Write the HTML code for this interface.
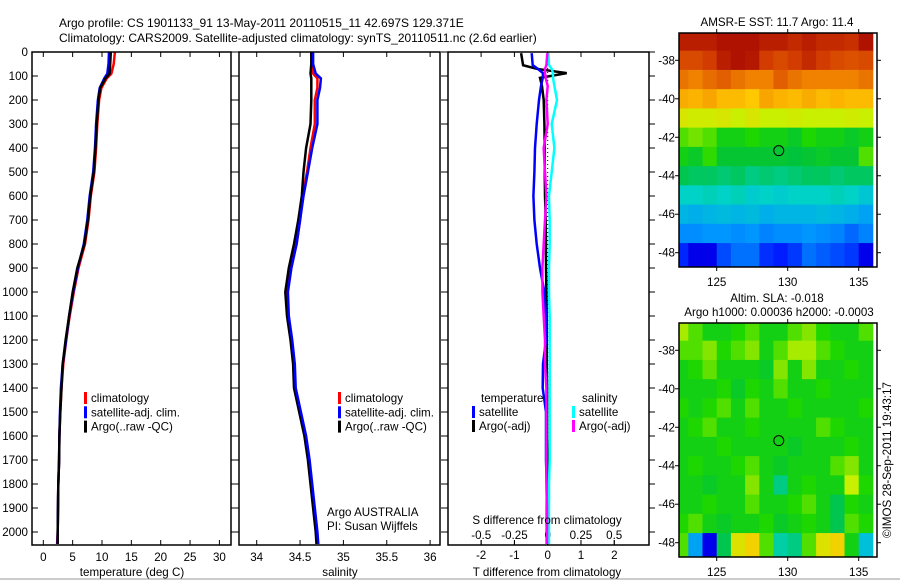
<!DOCTYPE html>
<html><head><meta charset="utf-8"><style>
body{margin:0;background:#fff;width:900px;height:580px;overflow:hidden}
svg{font-family:"Liberation Sans",sans-serif;font-size:11.6px}
</style></head><body>
<svg id="c" width="900" height="580" viewBox="0 0 900 580">
<rect width="900" height="580" fill="#fff"/>
<text x="59" y="27" font-size="12">Argo profile: CS 1901133_91 13-May-2011 20110515_11 42.697S 129.371E</text>
<text x="59" y="42" font-size="12">Climatology: CARS2009. Satellite-adjusted climatology: synTS_20110511.nc (2.6d earlier)</text>
<line x1="0" y1="579" x2="900" y2="579" stroke="#999"/>
</svg>
<script>
const depths=[0,50,90,110,150,200,300,400,500,600,700,800,900,1000,1100,1200,1300,1400,1500,1600,1700,1800,1900,2000,2050];
const tempClim=[12.2,12.0,11.6,10.8,9.9,9.5,9.2,9.0,8.7,8.1,7.7,7.1,6.0,5.2,4.5,3.9,3.4,3.1,2.9,2.75,2.7,2.55,2.5,2.45,2.35];
const tempSat=[11.2,11.1,10.9,10.4,9.6,9.3,9.0,8.8,8.5,7.9,7.5,6.9,5.9,5.1,4.4,3.9,3.3,3.0,2.85,2.75,2.7,2.55,2.5,2.45,2.4];
const tempArgo=[11.5,11.4,11.3,10.6,9.7,9.4,9.1,8.9,8.6,8.0,7.6,7.0,5.8,5.0,4.4,3.8,3.3,3.1,2.9,2.75,2.7,2.55,2.5,2.45,2.45];
const salClim=[34.63,34.64,34.65,34.70,34.70,34.67,34.67,34.62,34.58,34.53,34.50,34.46,34.39,34.35,34.36,34.40,34.43,34.44,34.5,34.56,34.6,34.63,34.66,34.69,34.70];
const salSat=[34.65,34.65,34.68,34.74,34.73,34.70,34.70,34.64,34.59,34.54,34.50,34.46,34.40,34.36,34.37,34.41,34.44,34.45,34.51,34.57,34.61,34.64,34.67,34.70,34.71];
const salArgo=[34.63,34.63,34.62,34.63,34.63,34.63,34.62,34.57,34.54,34.52,34.48,34.43,34.37,34.33,34.35,34.39,34.42,34.43,34.49,34.55,34.59,34.62,34.65,34.68,34.69];
const dDepths=[5,55,70,88,108,142,200,300,400,500,600,700,800,900,1000,1100,1200,1300,1400,1500,1600,1700,1800,1900,2000,2050];
const dTempSat=[-0.48,-0.45,-0.3,-0.14,-0.15,-0.2,-0.26,-0.33,-0.38,-0.4,-0.43,-0.4,-0.33,-0.23,-0.1,-0.05,-0.05,-0.14,-0.15,-0.05,-0.05,-0.05,-0.03,-0.03,-0.03,-0.03];
const dTempArgo=[-0.8,-0.74,-0.33,0.57,-0.23,-0.17,-0.12,-0.1,-0.09,-0.09,-0.08,-0.06,-0.05,-0.05,-0.04,-0.03,-0.03,-0.03,-0.02,-0.02,-0.02,-0.01,-0.01,0,0,0];
const dSalSat=[0.005,0.01,0.03,0.04,0.04,0.05,0.07,0.03,0.05,0.03,0.01,0.015,0.015,0.01,0.01,0.015,0.015,0.015,0.015,0.015,0.015,0.015,0.01,0.01,0.01,0.01];
const dSalArgo=[-0.003,-0.01,-0.02,-0.02,-0.015,0,-0.01,0,-0.03,-0.02,-0.01,-0.02,-0.03,-0.04,-0.04,-0.03,-0.02,-0.02,-0.01,-0.01,-0.01,-0.01,-0.01,-0.005,-0.005,-0.005];
const depthTicks=[0,100,200,300,400,500,600,700,800,900,1000,1100,1200,1300,1400,1500,1600,1700,1800,1900,2000];
const tempTicks=[0,5,10,15,20,25,30];
const salTicks=[34,34.5,35,35.5,36];
const salTickLabels=["34","34.5","35","35.5","36"];
const dTTicks=[-2,-1,0,1,2];
const dSTicks=[-0.5,-0.25,0,0.25,0.5];
const dSTickLabels=["-0.5","-0.25","0","0.25","0.5"];
const mapLats=[-37,-38,-39,-40,-41,-42,-43,-44,-45,-46,-47,-48];
const mapLons=[122.5,123.5,124.5,125.5,126.5,127.5,128.5,129.5,130.5,131.5,132.5,133.5,134.5,135.5];
const sstGrid=[
[.95,.95,.95,.97,.97,.97,.95,.95,.93,.95,.93,.93,.92,.97],
[.88,.88,.9,.95,.97,.96,.9,.88,.9,.93,.9,.88,.87,.88],
[.82,.8,.83,.85,.82,.8,.8,.85,.82,.8,.8,.8,.8,.82],
[.74,.73,.75,.72,.72,.7,.75,.73,.72,.74,.72,.73,.72,.72],
[.64,.63,.63,.64,.62,.64,.62,.62,.63,.62,.62,.62,.63,.62],
[.55,.57,.55,.5,.5,.52,.5,.5,.48,.52,.5,.5,.48,.5],
[.5,.48,.53,.47,.47,.47,.47,.47,.46,.47,.48,.47,.47,.55],
[.45,.44,.44,.43,.44,.42,.43,.42,.43,.44,.44,.43,.44,.44],
[.38,.38,.39,.38,.39,.37,.38,.37,.38,.38,.38,.39,.38,.36],
[.33,.32,.33,.34,.33,.34,.32,.33,.33,.33,.34,.33,.32,.3],
[.27,.27,.28,.28,.27,.28,.26,.27,.27,.28,.27,.26,.23,.26],
[.16,.1,.1,.2,.24,.24,.17,.15,.18,.24,.22,.2,.18,.1]];
const slaGrid=[
[.6,.55,.5,.5,.52,.55,.5,.5,.55,.58,.52,.5,.5,.55],
[.55,.55,.58,.52,.55,.58,.5,.55,.6,.6,.55,.52,.5,.5],
[.5,.52,.56,.5,.5,.5,.48,.58,.5,.58,.5,.5,.52,.5],
[.5,.5,.5,.52,.48,.52,.5,.55,.5,.5,.52,.5,.5,.5],
[.52,.5,.52,.55,.5,.55,.5,.5,.52,.5,.5,.5,.5,.52],
[.5,.52,.55,.5,.5,.52,.5,.5,.5,.5,.55,.52,.5,.5],
[.5,.5,.5,.52,.5,.5,.5,.5,.48,.5,.5,.5,.52,.5],
[.5,.52,.5,.5,.52,.55,.5,.48,.5,.5,.5,.55,.58,.5],
[.5,.5,.48,.5,.5,.58,.5,.42,.5,.52,.5,.5,.62,.52],
[.5,.5,.52,.5,.5,.55,.5,.5,.52,.55,.5,.45,.52,.5],
[.52,.55,.5,.48,.5,.5,.52,.48,.5,.52,.5,.45,.55,.52],
[.55,.3,.1,.45,.65,.68,.55,.4,.42,.55,.65,.68,.5,.35]];
const argoLon=129.371, argoLat=-42.697;

const NS="http://www.w3.org/2000/svg";
const svg=document.getElementById('c');
function el(t,a,parent){const e=document.createElementNS(NS,t);for(const k in a)e.setAttribute(k,a[k]);(parent||svg).appendChild(e);return e;}
const yD=d=>52+d*0.24;
const BOT=545;
function frame(x0,x1,name){const r=el('rect',{x:x0,y:52,width:x1-x0,height:BOT-52,fill:'none',stroke:'#000','stroke-width':1.5});}
function line(xs,ys,color,name,w){const pts=xs.map((x,i)=>x.toFixed(1)+','+ys[i].toFixed(1)).join(' ');const p=el('polyline',{points:pts,fill:'none',stroke:color,'stroke-width':w||2.5});}
function txt(x,y,s,anchor,name,extra){const t=el('text',Object.assign({x:x,y:y,'text-anchor':anchor||'start'},extra||{}));t.textContent=s;return t;}
const xT=v=>43.3+v*5.87;
const xS=v=>256.7+(v-34)*86.7;
const xdT=v=>547.7+v*33.3;
const xdS=v=>547.7+v*133;
depthTicks.forEach(d=>{txt(28,yD(d)+4,String(d),'end','depth-tick-label');el('line',{x1:32,x2:38,y1:yD(d),y2:yD(d),stroke:'#000'});el('line',{x1:231,x2:239,y1:yD(d),y2:yD(d),stroke:'#000'});el('line',{x1:441,x2:448,y1:yD(d),y2:yD(d),stroke:'#000'});el('line',{x1:649,x2:655,y1:yD(d),y2:yD(d),stroke:'#000'});});
tempTicks.forEach(v=>{el('line',{x1:xT(v),x2:xT(v),y1:52,y2:57,stroke:'#000'});el('line',{x1:xT(v),x2:xT(v),y1:BOT,y2:BOT-5,stroke:'#000'});txt(xT(v),561,String(v),'middle','temp-tick-label');});
salTicks.forEach((v,i)=>{el('line',{x1:xS(v),x2:xS(v),y1:52,y2:57,stroke:'#000'});el('line',{x1:xS(v),x2:xS(v),y1:BOT,y2:BOT-5,stroke:'#000'});txt(xS(v),561,salTickLabels[i],'middle','salinity-tick-label');});
dTTicks.forEach(v=>{el('line',{x1:xdT(v),x2:xdT(v),y1:52,y2:57,stroke:'#000'});el('line',{x1:xdT(v),x2:xdT(v),y1:BOT,y2:BOT-5,stroke:'#000'});txt(xdT(v),559,String(v),'middle','tdiff-tick-label');});
dSTicks.forEach((v,i)=>{el('line',{x1:xdS(v),x2:xdS(v),y1:BOT,y2:BOT-5,stroke:'#000'});txt(xdS(v),539,dSTickLabels[i],'middle','sdiff-tick-label');});
const yy=depths.map(yD), dyy=dDepths.map(yD);
line(tempClim.map(xT),yy,'#f00','temp-climatology-line');
line(tempSat.map(xT),yy,'#00f','temp-satellite-line');
line(tempArgo.map(xT),yy,'#000','temp-argo-line');
line(salClim.map(xS),yy,'#f00','sal-climatology-line');
line(salArgo.map(xS),yy,'#000','sal-argo-line');
line(salSat.map(xS),yy,'#00f','sal-satellite-line');
el('line',{x1:xdT(0),x2:xdT(0),y1:52,y2:BOT,stroke:'#000','stroke-dasharray':'1,3'});
line(dTempArgo.map(xdT),dyy,'#000','tdiff-argo-line');
line(dTempSat.map(xdT),dyy,'#00f','tdiff-satellite-line');
line(dSalSat.map(xdS),dyy,'#0ff','sdiff-satellite-line');
line(dSalArgo.map(xdS),dyy,'#f0f','sdiff-argo-line');
frame(32,231,'temperature-panel');frame(239,440,'salinity-panel');frame(448,649,'difference-panel');
txt(132,576,'temperature (deg C)','middle','temp-axis-title');
txt(340,576,'salinity','middle','salinity-axis-title');
txt(547,576,'T difference from climatology','middle','tdiff-axis-title');
txt(547,524,'S difference from climatology','middle','sdiff-axis-title');
function leg(x,y,color,s,name){el('rect',{x:x,y:y-10,width:3,height:12,fill:color});txt(x+7,y,s,'start',name);}
[[84,'climatology','#f00'],[84,'satellite-adj. clim.','#00f'],[84,'Argo(..raw -QC)','#000']].forEach((a,i)=>leg(a[0],402+i*14.3,a[2],a[1],'legend-entry'));
[[338,'climatology','#f00'],[338,'satellite-adj. clim.','#00f'],[338,'Argo(..raw -QC)','#000']].forEach((a,i)=>leg(a[0],402+i*14.3,a[2],a[1],'legend-entry'));
txt(481,402,'temperature','start','legend-temperature-heading');txt(582,402,'salinity','start','legend-salinity-heading');
leg(472,416,'#00f','satellite','legend-entry');leg(472,430,'#000','Argo(-adj)','legend-entry');
leg(572,416,'#0ff','satellite','legend-entry');leg(572,430,'#f0f','Argo(-adj)','legend-entry');
txt(327,516,'Argo AUSTRALIA','start','institution-label');txt(327,530,'PI: Susan Wijffels','start','pi-label');
const stops=[[0,[0,0,130]],[.12,[0,0,255]],[.28,[0,150,255]],[.38,[0,210,200]],[.46,[0,195,60]],[.52,[30,215,0]],[.62,[200,240,0]],[.7,[255,200,0]],[.8,[240,130,0]],[.9,[210,60,0]],[1,[160,0,0]]];
function cmap(v){for(let i=1;i<stops.length;i++){if(v<=stops[i][0]){const a=stops[i-1],b=stops[i],t=(v-a[0])/(b[0]-a[0]);return 'rgb('+a[1].map((c,k)=>Math.round(c+(b[1][k]-c)*t)).join(',')+')';}}return 'rgb(160,0,0)';}
function map(top,grid,name){const L=679,R=877,H=234;const xL=lon=>716.7+(lon-125)*14.2;const yL=lat=>top+27.3+(-38-lat)*19.24;
const g=el('g',{});
const cp=el('clipPath',{id:name+'-clip'},g);el('rect',{x:L,y:top,width:R-L,height:H},cp);
const cg=el('g',{'clip-path':'url(#'+name+'-clip)'},g);
grid.forEach((row,i)=>row.forEach((v,j)=>{const r=el('rect',{x:xL(mapLons[j]-0.5),y:yL(mapLats[i]+0.5)-(i===0?10:0),width:14.6,height:(i===grid.length-1||i===0)?30:19.7,fill:cmap(v)},cg);}));
el('rect',{x:L,y:top,width:R-L,height:H,fill:'none',stroke:'#000','stroke-width':1.5},g);
[125,130,135].forEach(v=>{el('line',{x1:xL(v),x2:xL(v),y1:top,y2:top-4,stroke:'#000'},g);el('line',{x1:xL(v),x2:xL(v),y1:top+H,y2:top+H+4,stroke:'#000'},g);txt(xL(v),top+H+19,String(v),'middle','map-lon-label');});
[-38,-40,-42,-44,-46,-48].forEach(v=>{el('line',{x1:L,x2:L-4,y1:yL(v),y2:yL(v),stroke:'#000'},g);el('line',{x1:R,x2:R+4,y1:yL(v),y2:yL(v),stroke:'#000'},g);txt(L-4,yL(v)+4,String(v),'end','map-lat-label');});
const c=el('circle',{cx:xL(argoLon),cy:yL(argoLat),r:5,fill:'none',stroke:'#000'},g);}
map(33,sstGrid,'sst-map');map(323,slaGrid,'sla-map');
txt(777,26,'AMSR-E SST: 11.7 Argo: 11.4','middle','sst-map-title');
txt(777,302,'Altim. SLA: -0.018','middle','sla-map-title');
txt(779,316,'Argo h1000: 0.00036 h2000: -0.0003','middle','sla-map-subtitle');
txt(0,0,'©IMOS 28-Sep-2011 19:43:17','middle','timestamp-label',{transform:'translate(891,460) rotate(-90)'});
</script>
</body></html>
